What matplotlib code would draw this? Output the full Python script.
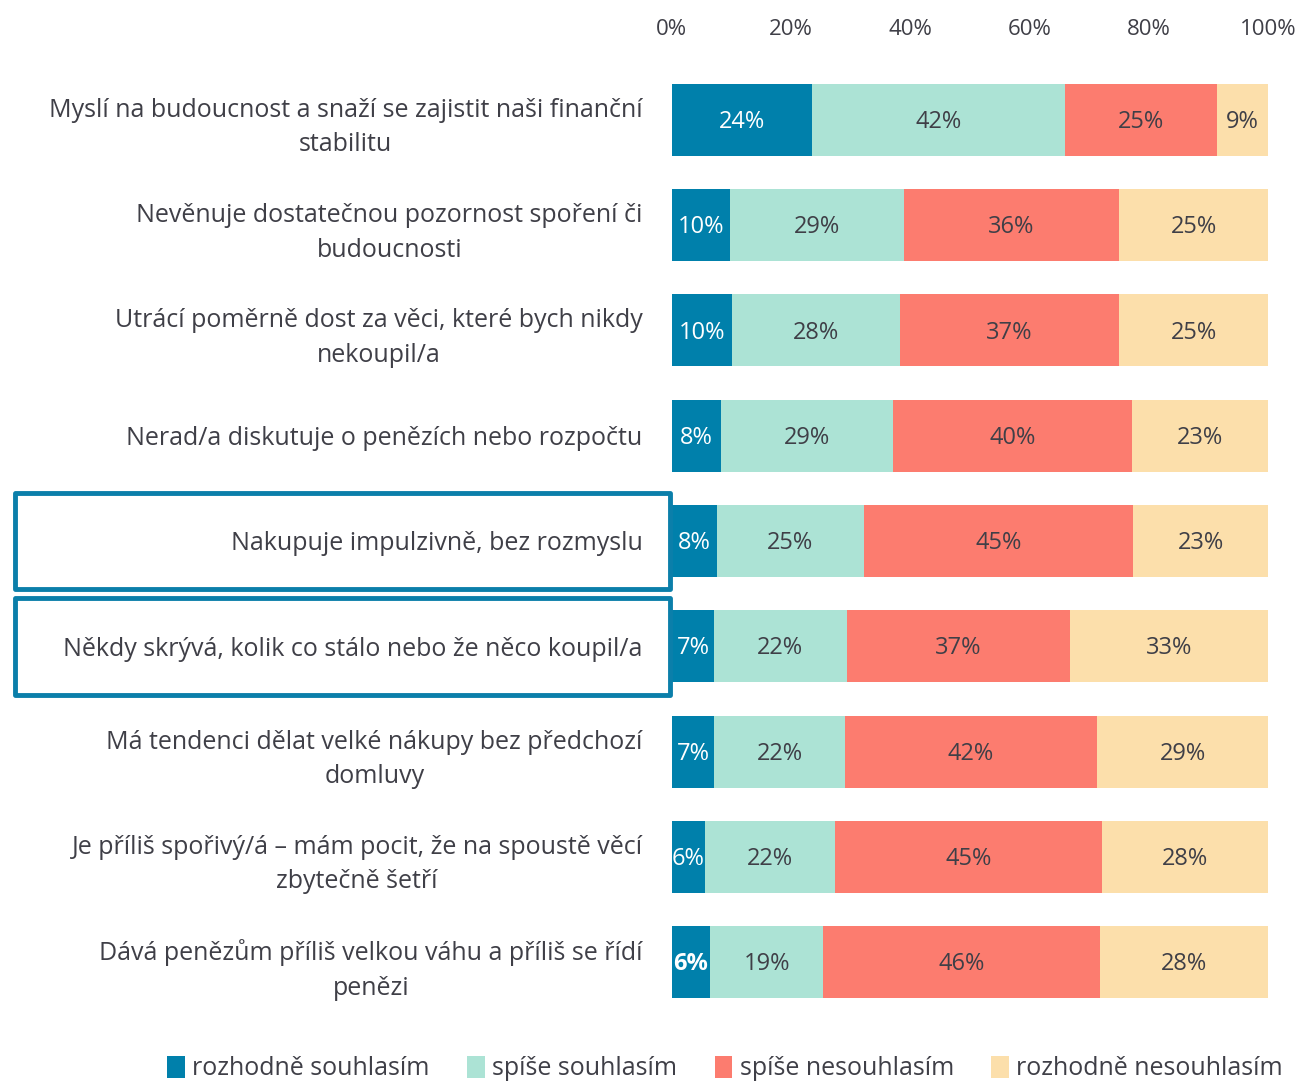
import matplotlib.pyplot as plt
import matplotlib.transforms as mtransforms
from matplotlib.patches import Rectangle
import numpy as np

plt.rcParams['font.family'] = ['Open Sans', 'DejaVu Sans']

# statements (top to bottom)
labels = [
    "Myslí na budoucnost a snaží se zajistit naši finanční\nstabilitu",
    "Nevěnuje dostatečnou pozornost spoření či\nbudoucnosti",
    "Utrácí poměrně dost za věci, které bych nikdy\nnekoupil/a",
    "Nerad/a diskutuje o penězích nebo rozpočtu",
    "Nakupuje impulzivně, bez rozmyslu",
    "Někdy skrývá, kolik co stálo nebo že něco koupil/a",
    "Má tendenci dělat velké nákupy bez předchozí\ndomluvy",
    "Je příliš spořivý/á – mám pocit, že na spoustě věcí\nzbytečně šetří",
    "Dává penězům příliš velkou váhu a příliš se řídí\npenězi",
]

# shares in %
rozhodne_souhlasim = [23.5, 9.8, 10.1, 8.2, 7.5, 7.1, 7.1, 5.6, 6.4]
spise_souhlasim = [42.4, 29.1, 28.1, 28.8, 24.7, 22.2, 21.9, 21.7, 19.0]
spise_nesouhlasim = [25.4, 36.0, 36.7, 40.1, 45.1, 37.4, 42.3, 44.8, 46.3]
rozhodne_nesouhlasim = [8.7, 25.1, 25.1, 22.9, 22.7, 33.3, 28.7, 27.9, 28.3]

series_names = ["rozhodně souhlasím", "spíše souhlasím", "spíše nesouhlasím", "rozhodně nesouhlasím"]
colors = ["#0080ab", "#ace3d5", "#fc7c6f", "#fcdfab"]
text_col = "#3f3f47"
highlight_rows = [4, 5]

series = [rozhodne_souhlasim, spise_souhlasim, spise_nesouhlasim, rozhodne_nesouhlasim]

fig = plt.figure(figsize=(12.97, 10.86), dpi=100)
ax = fig.add_axes([0.518, 0.0657, 0.460, 0.8723])

y = np.arange(len(labels))
left = np.zeros(len(labels))
for k, (vals, name, col) in enumerate(zip(series, series_names, colors)):
    vals = np.array(vals)
    ax.barh(y, vals, left=left, height=0.684, color=col, label=name, edgecolor='none')
    for i, v in enumerate(vals):
        txt = f"{int(v + 0.5)}%"
        c = "white" if k == 0 else text_col
        w = 'bold' if (k == 0 and i == len(labels) - 1) else 'normal'
        ax.text(left[i] + v / 2, i + 0.02, txt, ha='center', va='center',
                color=c, fontsize=17, fontweight=w)
    left += vals

ax.set_xlim(0, 100)
ax.set_ylim(len(labels) - 0.5, -0.5)
ax.set_xticks(np.arange(0, 101, 20))
ax.set_xticklabels([f"{t}%" for t in range(0, 101, 20)])
ax.xaxis.tick_top()
ax.tick_params(axis='x', length=0, pad=20, labelsize=16, labelcolor=text_col)
ax.set_yticks(y)
ax.set_yticklabels(labels, fontsize=18, color=text_col, ha='right',
                   multialignment='center', linespacing=1.5)
ax.tick_params(axis='y', length=0, pad=21)
for s in ax.spines.values():
    s.set_visible(False)

# highlight boxes around selected statements
trans = mtransforms.blended_transform_factory(fig.transFigure, ax.transData)
for r in highlight_rows:
    rect = Rectangle((0.0116, r - 0.46), 0.505, 0.92, transform=trans,
                     fill=False, edgecolor="#0b7faa", linewidth=3.5,
                     joinstyle='round', clip_on=False)
    fig.add_artist(rect)

fig.legend(loc='center', bbox_to_anchor=(0.559, 0.016), ncol=4, frameon=False,
           fontsize=18, handlelength=0.7, handleheight=1.0, handletextpad=0.3,
           columnspacing=1.5, labelcolor=text_col)

fig.savefig("out.png", dpi=100)
